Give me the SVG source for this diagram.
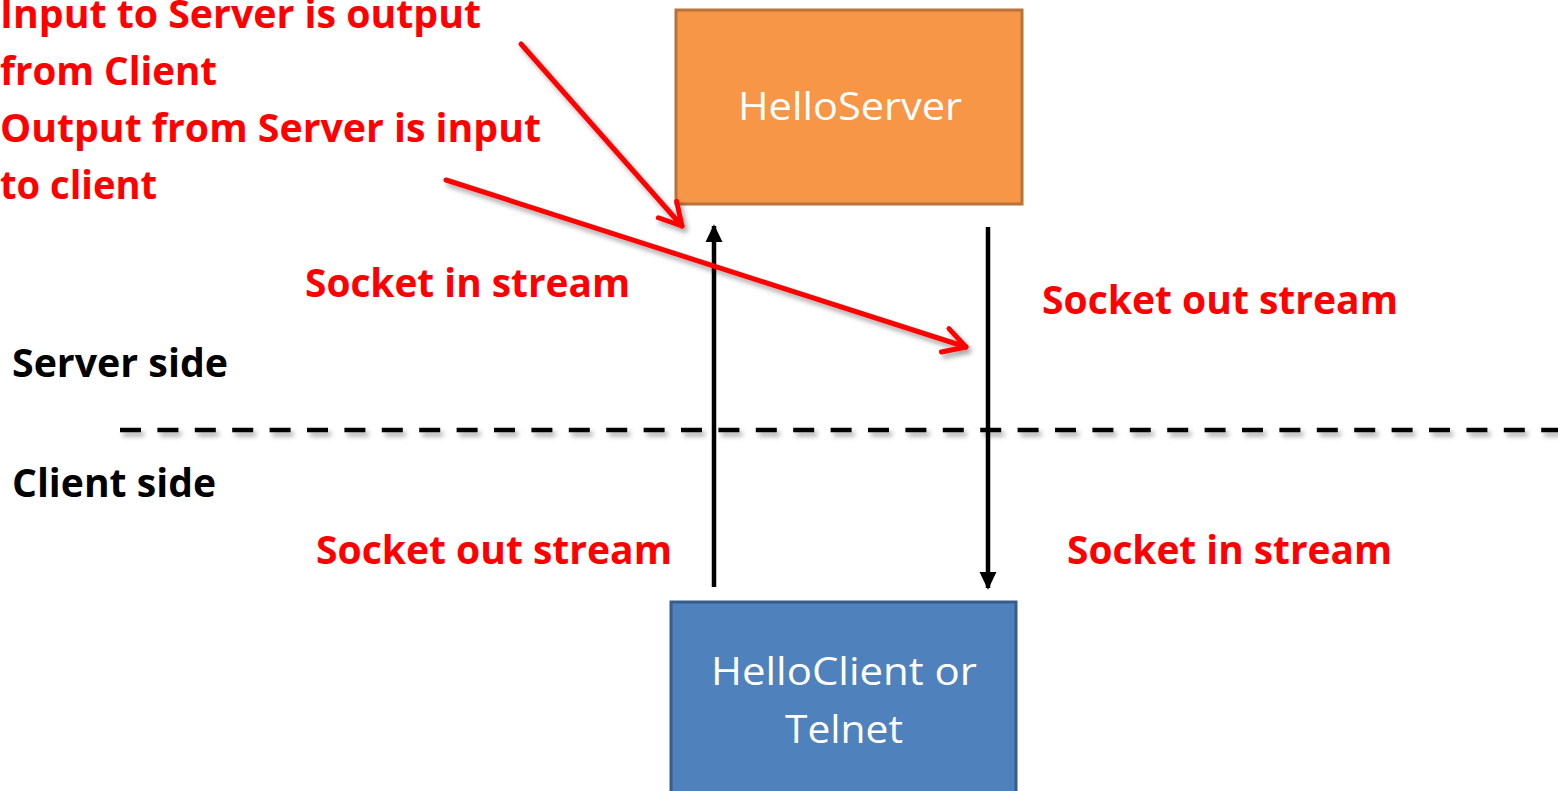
<svg xmlns="http://www.w3.org/2000/svg" width="1558" height="791" viewBox="0 0 1558 791">
  <style>
    .lbl { font-family: "Open Sans", "Liberation Sans", sans-serif; font-weight: bold; font-size: 40px; }
    .red { fill: #FF0000; }
    .blk { fill: #000000; }
    .box-text { font-family: "Open Sans", "Liberation Sans", sans-serif; font-size: 39px; fill: #FFFFFF; text-anchor: middle; }
    .flow { stroke: #000000; stroke-width: 4.5; fill: none; }
    .note { stroke: #FF0000; stroke-width: 5; fill: none; stroke-linecap: round; }
  </style>
  <defs>
    <filter id="shadow" filterUnits="userSpaceOnUse" x="0" y="0" width="1558" height="791">
      <feDropShadow dx="3" dy="4" stdDeviation="2.5" flood-color="#000000" flood-opacity="0.35"/>
    </filter>
    <marker id="headBlack" viewBox="0 0 10 10" refX="9" refY="5" markerWidth="4" markerHeight="3.8" orient="auto" markerUnits="strokeWidth" preserveAspectRatio="none">
      <path d="M0,0 L10,5 L0,10 Z" fill="#000000"/>
    </marker>
    <marker id="headRed" viewBox="0 0 12 12" refX="10" refY="6" markerWidth="7" markerHeight="7" orient="auto" markerUnits="strokeWidth">
      <path d="M2.5,1.8 L10,6 L2.5,10.2" fill="none" stroke="#FF0000" stroke-width="1.7" stroke-linecap="round" stroke-linejoin="round"/>
    </marker>
  </defs>

  <rect width="1558" height="791" fill="#FFFFFF"/>

  <!-- server process -->
  <g id="hello-server">
    <rect x="676" y="10" width="346" height="194" fill="#F79646" stroke="#B8733A" stroke-width="3"/>
    <text class="box-text" x="850" y="120" textLength="224" lengthAdjust="spacingAndGlyphs">HelloServer</text>
  </g>

  <!-- client process -->
  <g id="hello-client">
    <rect x="671" y="602" width="345" height="200" fill="#4F81BD" stroke="#385D8A" stroke-width="3"/>
    <text class="box-text" x="844" y="685" textLength="266" lengthAdjust="spacingAndGlyphs">HelloClient or</text>
    <text class="box-text" x="844" y="743" textLength="118" lengthAdjust="spacingAndGlyphs">Telnet</text>
  </g>

  <!-- server / client boundary -->
  <g id="boundary" filter="url(#shadow)">
    <line x1="120" y1="430" x2="1558" y2="430" stroke="#000000" stroke-width="4.5" stroke-dasharray="21 16.4"/>
  </g>

  <g id="connectors">
    <!-- client output to server input -->
    <line class="flow" x1="714" y1="587" x2="714" y2="226" marker-end="url(#headBlack)"/>
    <!-- server output to client input -->
    <line class="flow" x1="988" y1="227" x2="988" y2="588" marker-end="url(#headBlack)"/>
    <!-- annotation pointers -->
    <g filter="url(#shadow)">
      <line class="note" x1="521" y1="44" x2="682" y2="226" marker-end="url(#headRed)"/>
      <line class="note" x1="446" y1="180" x2="966" y2="347" marker-end="url(#headRed)"/>
    </g>
  </g>

  <g id="annotation">
    <text class="lbl red" x="0" y="28" textLength="481" lengthAdjust="spacingAndGlyphs">Input to Server is output</text>
    <text class="lbl red" x="0" y="85" textLength="217" lengthAdjust="spacingAndGlyphs">from Client</text>
    <text class="lbl red" x="0" y="142" textLength="541" lengthAdjust="spacingAndGlyphs">Output from Server is input</text>
    <text class="lbl red" x="0" y="199" textLength="157" lengthAdjust="spacingAndGlyphs">to client</text>
  </g>

  <g id="stream-labels">
    <text class="lbl red" x="305" y="297" textLength="325" lengthAdjust="spacingAndGlyphs">Socket in stream</text>
    <text class="lbl red" x="1042" y="314" textLength="356" lengthAdjust="spacingAndGlyphs">Socket out stream</text>
    <text class="lbl red" x="316" y="564" textLength="356" lengthAdjust="spacingAndGlyphs">Socket out stream</text>
    <text class="lbl red" x="1067" y="564" textLength="325" lengthAdjust="spacingAndGlyphs">Socket in stream</text>
  </g>

  <g id="side-labels">
    <text class="lbl blk" x="12" y="377" textLength="216" lengthAdjust="spacingAndGlyphs">Server side</text>
    <text class="lbl blk" x="12" y="497" textLength="204" lengthAdjust="spacingAndGlyphs">Client side</text>
  </g>
</svg>
